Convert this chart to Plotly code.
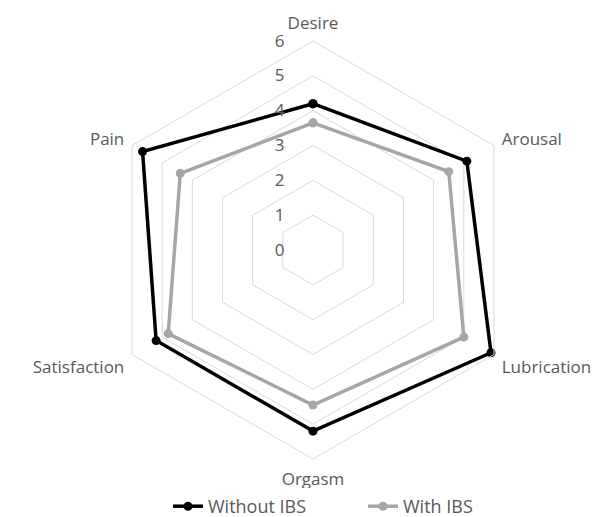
import plotly.graph_objects as go

# domains of sexual function (clockwise from top)
domains = ['Desire', 'Arousal', 'Lubrication', 'Orgasm', 'Satisfaction', 'Pain']
without_ibs = [4.2, 5.1, 5.9, 5.2, 5.2, 5.65]
with_ibs = [3.65, 4.5, 5.0, 4.45, 4.8, 4.4]
radial_ticks = [0, 1, 2, 3, 4, 5, 6]

# close the polygons
theta = domains + domains[:1]

fig = go.Figure()
fig.add_trace(go.Scatterpolar(r=without_ibs + without_ibs[:1], theta=theta, name='Without IBS',
                              mode='lines+markers',
                              line=dict(color='#000000', width=3.5),
                              marker=dict(color='#000000', size=9)))
fig.add_trace(go.Scatterpolar(r=with_ibs + with_ibs[:1], theta=theta, name='With IBS',
                              mode='lines+markers',
                              line=dict(color='#a6a6a6', width=3.5),
                              marker=dict(color='#a6a6a6', size=9)))

R = 209
cx, cy = 305, 517 - 242
fig.update_layout(
    width=601, height=517,
    margin=dict(l=0, r=0, t=0, b=0, autoexpand=False),
    paper_bgcolor='white',
    font=dict(family='Open Sans', size=17, color='#595959'),
    polar=dict(
        domain=dict(x=[(cx - R)/601, (cx + R)/601], y=[(cy - R)/517, (cy + R)/517]),
        bgcolor='white',
        gridshape='linear',
        angularaxis=dict(rotation=90, direction='clockwise', showgrid=False,
                         showline=True, linecolor='#d9d9d9', linewidth=1,
                         ticks='outside', ticklen=5, tickcolor='rgba(0,0,0,0)',
                         tickfont=dict(size=17, color='#595959')),
        radialaxis=dict(range=[0, 6], tickvals=radial_ticks, angle=90, tickangle=90,
                        side='counterclockwise', showline=False,
                        ticks='outside', ticklen=22, tickcolor='rgba(0,0,0,0)',
                        gridcolor='#d9d9d9', gridwidth=1,
                        tickfont=dict(size=17, color='#595959')),
    ),
    legend=dict(orientation='h', x=160/601, xanchor='left', y=0, yanchor='bottom',
                entrywidth=150, font=dict(size=18, color='#595959')),
)

fig.write_html("out.html")
